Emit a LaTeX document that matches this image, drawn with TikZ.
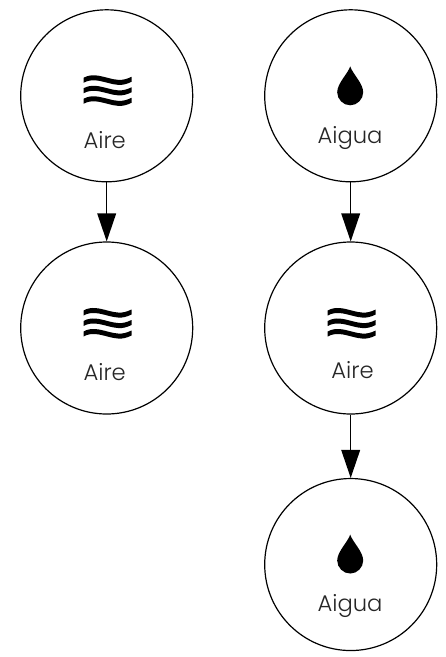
\documentclass[tikz,border=0pt]{standalone}
\usepackage{fontspec}
\setmainfont{Poppins Light}
\usetikzlibrary{arrows.meta,positioning,calc}

\begin{document}
\begin{tikzpicture}[
    x=0.75pt, y=0.75pt,
    node distance=44.25pt,
    every node/.style={font=\fontsize{17pt}{19pt}\selectfont},
    stage/.style={circle, draw=black, line width=0.9pt, minimum size=129pt, inner sep=0pt},
    caption/.style={anchor=base, text=black!85},
    flow/.style={-{Triangle[length=21pt, width=14pt]}, line width=1.1pt, black},
    waves/.pic={
        \foreach \h in {-10.5,0,10.5}
            \fill (-24,\h+2.5) .. controls (-16,\h+7) and (-8,\h+4.5) .. (0,\h+2.5) .. controls (8,\h+0.5) and (14,\h-1.5) .. (24,\h+3.5)
                -- (24,\h-1.5) .. controls (14,\h-6.5) and (8,\h-4.5) .. (0,\h-2.5) .. controls (-8,\h-0.5) and (-16,\h+2) .. (-24,\h-2.5) -- cycle;
    },
    droplet/.pic={
        \fill (0,20) .. controls (-2,13) and (-13,3) .. (-13,-6) .. controls (-13,-13) and (-7,-19) .. (0,-19)
            .. controls (7,-19) and (13,-13) .. (13,-6) .. controls (13,3) and (2,13) .. (0,20) -- cycle;
    }
]

\useasboundingbox (0,0) rectangle (446,-657);

\node[stage] (aireA) at (106.7,-95.8) {};
\node[stage, below=of aireA] (aireB) {};
\node[stage] (aiguaA) at (350.7,-95.8) {};
\node[stage, below=of aiguaA] (aireC) {};
\node[stage, below=47.5pt of aireC] (aiguaB) {};

\draw[flow] (aireA) -- (aireB);
\draw[flow] (aiguaA) -- (aireC);
\draw[flow] (aireC) -- (aiguaB);

\pic at ($(aireA)+(0.8,5)$) {waves};
\pic at ($(aireB)+(0.8,4.5)$) {waves};
\pic at ($(aireC)+(1,4.5)$) {waves};
\pic at ($(aiguaA)+(-0.5,9.5)$) {droplet};
\pic at ($(aiguaB)+(-0.5,10)$) {droplet};

\node[caption] (aireAtext) at ($(aireA)+(-2,-52.5)$) {Aire};
\node[caption] (aireBtext) at ($(aireB)+(-2,-52.7)$) {Aire};
\node[caption] (aireCtext) at ($(aireC)+(1.8,-50)$) {Aire};
\node[caption] (aiguaAtext) at ($(aiguaA)+(-0.7,-47.5)$) {Aigua};
\node[caption] (aiguaBtext) at ($(aiguaB)+(-0.7,-47)$) {Aigua};

\end{tikzpicture}
\end{document}
